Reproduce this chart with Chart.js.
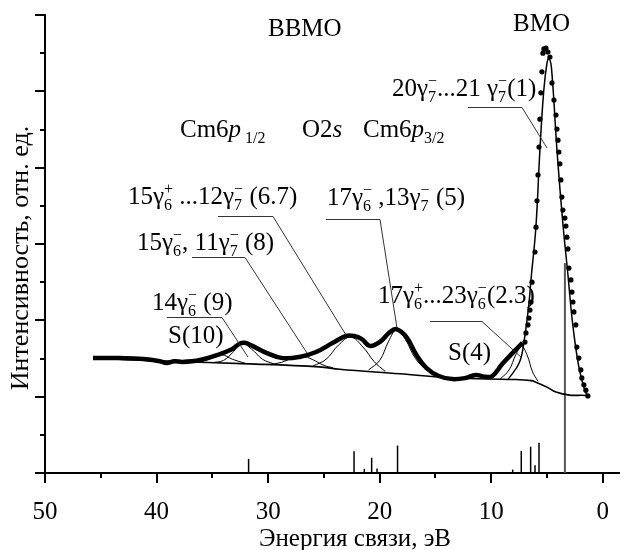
<!DOCTYPE html>
<html>
<head>
<meta charset="utf-8">
<script src="https://cdn.jsdelivr.net/npm/chart.js@4.4.0/dist/chart.umd.min.js"></script>
<style>
  html, body { margin: 0; padding: 0; background: #fff; }
  canvas { display: block; }
</style>
</head>
<body>
<canvas id="xpsChart" width="623" height="550"></canvas>
<script>
// Experimental spectrum, solid part (binding energy, eV / intensity, rel. units)
const expE = [45.7, 43.3, 41.2, 39.7, 39.1, 38.4, 37.7, 36.1, 34.6, 33.2, 32.6, 32.1, 31.4, 30.1, 28.7, 27.2, 25.7, 24.2, 23.0, 22.3, 21.6, 20.9, 20.0, 19.1, 18.5, 17.6, 16.7, 15.8, 14.7, 13.5, 12.3, 11.4, 10.5, 9.9, 9.0, 8.1, 7.2];
const expI = [3.01, 3.01, 2.99, 2.93, 2.88, 2.93, 2.91, 2.96, 3.09, 3.25, 3.38, 3.41, 3.33, 3.14, 3.01, 3.04, 3.17, 3.41, 3.59, 3.59, 3.51, 3.33, 3.43, 3.69, 3.77, 3.56, 3.09, 2.75, 2.54, 2.46, 2.49, 2.57, 2.52, 2.54, 2.86, 3.14, 3.41];

// Experimental points on the outer valence peak
const dotE = [6.98, 6.89, 6.71, 6.62, 6.53, 6.44, 6.35, 6.08, 5.99, 5.90, 5.81, 5.72, 5.64, 5.55, 5.46, 5.37, 5.28, 5.10, 4.92, 4.74, 4.56, 4.38, 4.20, 4.11, 4.02, 3.94, 3.85, 3.76, 3.67, 3.58, 3.40, 3.31, 3.22, 3.13, 3.04, 2.86, 2.77, 2.68, 2.59, 2.42, 2.33, 2.15, 1.97, 1.88, 1.70, 1.52, 1.34];
const dotI = [3.43, 3.67, 3.88, 4.06, 4.27, 4.48, 5.00, 5.79, 6.44, 7.13, 7.81, 8.54, 9.27, 9.96, 10.51, 11.00, 11.11, 11.13, 11.03, 10.90, 10.22, 9.77, 9.38, 9.01, 8.72, 8.41, 8.10, 7.68, 7.23, 6.89, 6.68, 6.47, 6.18, 5.87, 5.37, 5.06, 4.74, 4.48, 4.22, 3.88, 3.30, 3.01, 2.70, 2.49, 2.31, 2.17, 2.02];

// Fit of the outer valence peak
const fitE = [8.5, 7.5, 7.07, 6.62, 6.44, 6.0, 5.64, 5.3, 5.0, 4.83, 4.6, 4.11, 3.6, 3.13, 2.7, 2.15, 1.6, 1.3];
const fitI = [2.45, 2.88, 3.43, 4.45, 5.06, 6.44, 8.46, 10.0, 10.75, 10.87, 10.6, 8.46, 6.6, 5.2, 3.9, 2.78, 2.15, 2.0];

// Background
const bgE = [45.7, 39.1, 31.7, 25.4, 23.6, 18.2, 13.5, 8.0, 6.4, 6.0, 5.0, 4.2, 3.0, 1.5, 1.3];
const bgI = [3.01, 2.93, 2.86, 2.78, 2.72, 2.60, 2.49, 2.45, 2.42, 2.38, 2.25, 2.12, 2.04, 2.03, 1.99];

// Fit components of the inner valence band
const s10E = [36.5, 35.3, 34.2, 33.2, 32.0];
const s10I = [2.90, 2.98, 3.10, 2.98, 2.87];
const g9E = [35.0, 34.0, 33.2, 32.4, 31.5, 30.5, 29.5];
const g9I = [2.89, 2.95, 3.15, 3.40, 3.25, 2.98, 2.86];
const g8E = [30.0, 28.8, 27.8, 27.0, 26.0, 25.0, 24.2];
const g8I = [2.84, 2.90, 3.02, 3.07, 2.97, 2.82, 2.76];
const g67E = [26.0, 24.8, 23.7, 22.6, 21.5, 20.5, 19.5];
const g67I = [2.80, 2.98, 3.35, 3.56, 3.30, 2.92, 2.66];
const g5E = [21.0, 20.0, 19.2, 18.5, 17.7, 16.8, 15.8, 15.0];
const g5I = [2.70, 2.95, 3.45, 3.75, 3.50, 3.00, 2.70, 2.57];
const s4E = [12.6, 11.3, 10.1];
const s4I = [2.48, 2.56, 2.47];
const g23E = [9.2, 8.4, 7.8, 7.3, 6.8, 6.3, 5.8];
const g23I = [2.46, 2.70, 3.10, 3.32, 3.10, 2.65, 2.40];

// Calculated line spectrum
const stickE = [31.75, 22.30, 21.38, 20.72, 20.24, 18.40, 8.08, 7.31, 6.47, 6.08, 5.72, 3.40];
const stickH = [0.37, 0.57, 0.11, 0.40, 0.12, 0.72, 0.09, 0.58, 0.69, 0.20, 0.79, 5.50];

const xTicks = [0, 10, 20, 30, 40, 50];

const FONT = '"Liberation Serif", "Times New Roman", serif';

function pts(E, I) { return E.map((e, i) => ({ x: e, y: I[i] })); }

function sticks() {
  const out = [];
  stickE.forEach((e, i) => { out.push({ x: e, y: 0 }, { x: e, y: stickH[i] }, { x: e, y: null }); });
  return out;
}

function thin(E, I, w) {
  return { data: pts(E, I), borderColor: '#000', borderWidth: w || 1, pointRadius: 0, tension: 0.4, fill: false };
}

// text with stacked sup/sub (^{..}_{..}) and italics (*..*)
function richText(ctx, str, x, y) {
  const big = 25, small = 16;
  const setF = (s, it) => { ctx.font = (it ? 'italic ' : '') + s + 'px ' + FONT; };
  const grab = k => { const j = str.indexOf('}', k); return [str.slice(k + 2, j), j + 1]; };
  let cx = x, i = 0;
  while (i < str.length) {
    const c = str[i];
    if (c === '^' || c === '_') {
      let sup = '', sub = '';
      if (str[i] === '^') [sup, i] = grab(i);
      if (str[i] === '_') [sub, i] = grab(i);
      setF(small);
      if (sup) ctx.fillText(sup, cx, y - 10);
      if (sub) ctx.fillText(sub, cx, y + 6);
      cx += Math.max(ctx.measureText(sup).width, ctx.measureText(sub).width);
      continue;
    }
    if (c === '*') {
      const j = str.indexOf('*', i + 1);
      const s = str.slice(i + 1, j);
      setF(big, true); ctx.fillText(s, cx, y); cx += ctx.measureText(s).width;
      i = j + 1;
      continue;
    }
    let j = i;
    while (j < str.length && !'^_*'.includes(str[j])) j++;
    const s = str.slice(i, j);
    setF(big); ctx.fillText(s, cx, y); cx += ctx.measureText(s).width;
    i = j;
  }
}

const notes = [
  ['ВВМО', 268, 36],
  ['ВМО', 513, 31],
  ['20γ^{−}_{7}...21 γ^{−}_{7}(1)', 392, 96],
  ['Cm6*p*_{ 1/2}', 180, 137],
  ['O2*s*', 302, 137],
  ['Cm6*p*_{3/2}', 363, 137],
  ['15γ^{+}_{6} ...12γ^{−}_{7} (6.7)', 128, 204],
  ['17γ^{−}_{6} ,13γ^{−}_{7} (5)', 327, 205],
  ['15γ^{−}_{6}, 11γ^{−}_{7} (8)', 137, 250],
  ['14γ^{−}_{6} (9)', 152, 310],
  ['S(10)', 168, 343],
  ['17γ^{+}_{6}...23γ^{−}_{6}(2.3)', 378, 303],
  ['S(4)', 448, 360]
];

const leaders = [
  [[468, 107], [522, 107], [547, 148]],
  [[218, 216], [273, 216], [346, 335]],
  [[326, 219], [380, 219], [397, 328]],
  [[192, 257], [245, 257], [307, 353]],
  [[167, 317], [222, 317], [248, 357]],
  [[430, 321], [482, 321], [522, 358]]
];

const decor = {
  id: 'decor',
  afterDraw(chart) {
    const { ctx, scales: { x, y } } = chart;
    ctx.save();
    ctx.strokeStyle = '#000';
    ctx.lineWidth = 2;
    ctx.beginPath();
    for (let v = 0; v <= 50; v += 5) {
      const px = Math.round(x.getPixelForValue(v));
      ctx.moveTo(px, y.bottom); ctx.lineTo(px, y.bottom + (v % 10 === 0 ? 10 : 5));
    }
    for (let v = 0; v <= 12; v++) {
      const py = Math.round(y.getPixelForValue(v));
      ctx.moveTo(x.left, py); ctx.lineTo(x.left - (v % 2 === 0 ? 10 : 5), py);
    }
    ctx.stroke();

    // leader lines
    ctx.strokeStyle = '#333';
    ctx.lineWidth = 1;
    leaders.forEach(l => {
      ctx.beginPath();
      ctx.moveTo(l[0][0], l[0][1] + 0.5);
      ctx.lineTo(l[1][0], l[1][1] + 0.5);
      ctx.lineTo(l[2][0], l[2][1]);
      ctx.stroke();
    });

    ctx.fillStyle = '#000';
    ctx.textBaseline = 'alphabetic';
    ctx.textAlign = 'left';
    notes.forEach(n => richText(ctx, n[0], n[1], n[2]));

    // axis titles
    ctx.font = '25px ' + FONT;
    ctx.textAlign = 'center';
    ctx.fillText('Энергия связи, эВ', 355, 546);
    ctx.font = '26px ' + FONT;
    ctx.translate(28, 258);
    ctx.rotate(-Math.PI / 2);
    ctx.fillText('Интенсивность, отн. ед.', 0, 0);
    ctx.restore();
  }
};

new Chart(document.getElementById('xpsChart').getContext('2d'), {
  type: 'line',
  data: {
    datasets: [
      { data: pts(expE, expI), borderColor: '#000', borderWidth: 4.5, pointRadius: 0, tension: 0.4, fill: false },
      { data: pts(dotE, dotI), showLine: false, pointRadius: 2.6, pointBackgroundColor: '#000', pointBorderWidth: 0, borderColor: '#000' },
      thin(fitE, fitI, 1.5),
      thin(s10E, s10I),
      thin(g9E, g9I),
      thin(g8E, g8I),
      thin(g67E, g67I),
      thin(g5E, g5I),
      thin(s4E, s4I),
      thin(g23E, g23I),
      thin(bgE, bgI, 1.6),
      {
        data: sticks(), borderWidth: 1.5, pointRadius: 0, spanGaps: false, tension: 0,
        borderColor: '#000',
        segment: { borderColor: c => (c.p1.parsed.y > 2 ? '#555' : '#000'), borderWidth: c => (c.p1.parsed.y > 2 ? 2 : 1.5) }
      }
    ]
  },
  options: {
    responsive: false,
    animation: false,
    devicePixelRatio: 1,
    layout: { padding: { left: 0, right: 3, top: 15, bottom: 0 } },
    plugins: { legend: { display: false }, tooltip: { enabled: false } },
    scales: {
      x: {
        type: 'linear', min: -1.45, max: 50, reverse: true,
        grid: { display: false },
        border: { display: true, color: '#000', width: 2 },
        ticks: { font: { family: FONT, size: 25 }, color: '#000', padding: 16, maxRotation: 0, autoSkip: false },
        afterBuildTicks: s => { s.ticks = xTicks.map(v => ({ value: v })); },
        afterFit: s => { s.height = 77; }
      },
      y: {
        min: 0, max: 12,
        grid: { display: false },
        border: { display: true, color: '#000', width: 2 },
        ticks: { display: false },
        afterFit: s => { s.width = 45; }
      }
    }
  },
  plugins: [decor]
});
</script>
</body>
</html>
